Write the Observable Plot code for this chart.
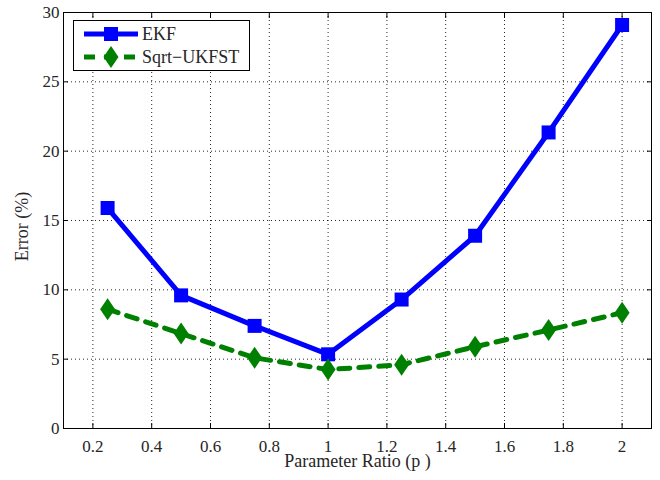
<!DOCTYPE html>
<html>
<head>
<meta charset="utf-8">
<script src="https://cdn.jsdelivr.net/npm/d3@7"></script>
<script src="https://cdn.jsdelivr.net/npm/@observablehq/plot@0.6"></script>
<style>
  html, body { margin: 0; padding: 0; background: #fff; }
  #chart svg { display: block; }
  #chart svg text { font-family: "Liberation Serif", serif !important; }
</style>
</head>
<body>
<div id="chart"></div>
<script>
// Parameter ratio values on the x axis
const ratios = [0.25, 0.5, 0.75, 1.0, 1.25, 1.5, 1.75, 2.0];
// Error (%) per filter
const ekfError = [15.9, 9.6, 7.4, 5.35, 9.3, 13.9, 21.35, 29.1];
const ukfstError = [8.6, 6.85, 5.1, 4.25, 4.6, 5.9, 7.1, 8.35];
const seriesNames = ["EKF", "Sqrt\u2212UKFST"];
const xTicks = [0.2, 0.4, 0.6, 0.8, 1, 1.2, 1.4, 1.6, 1.8, 2];
const yTicks = [0, 5, 10, 15, 20, 25, 30];

const ekfRows = ratios.map((p, i) => ({p, err: ekfError[i]}));
const ukfRows = ratios.map((p, i) => ({p, err: ukfstError[i]}));

const BLUE = "#0000ff";
const GREEN = "#008000";
const FONT = "Liberation Serif, serif";
const TXT = {fontFamily: FONT, fill: "#262626"};

// Tall diamond marker
const tallDiamond = {
  draw(ctx, size) {
    const w = 7.5, h = 11;
    ctx.moveTo(0, -h); ctx.lineTo(w, 0); ctx.lineTo(0, h); ctx.lineTo(-w, 0); ctx.closePath();
  }
};
const squareMark = {
  draw(ctx, size) {
    const s = 7;
    ctx.moveTo(-s, -s); ctx.lineTo(s, -s); ctx.lineTo(s, s); ctx.lineTo(-s, s); ctx.closePath();
  }
};

const plot = Plot.plot({
  width: 660,
  height: 480,
  marginLeft: 63,
  marginRight: 9,
  marginTop: 12,
  marginBottom: 52,
  style: {fontFamily: FONT, fontSize: "17px", color: "#262626", background: "#fff"},
  x: {domain: [0.1, 2.1]},
  y: {domain: [0, 30]},
  marks: [
    // dotted grid
    Plot.ruleX(xTicks, {stroke: "#000", strokeWidth: 1, strokeDasharray: "1,3", strokeOpacity: 0.85}),
    Plot.ruleY(yTicks, {stroke: "#000", strokeWidth: 1, strokeDasharray: "1,3", strokeOpacity: 0.85}),
    // inward ticks on all four sides
    Plot.axisX({ticks: xTicks, anchor: "bottom", tickSize: -5, text: null, label: null, stroke: "#000"}),
    Plot.axisX({ticks: xTicks, anchor: "top", tickSize: -5, text: null, label: null, stroke: "#000"}),
    Plot.axisY({ticks: yTicks, anchor: "left", tickSize: -5, text: null, label: null, stroke: "#000"}),
    Plot.axisY({ticks: yTicks, anchor: "right", tickSize: -5, text: null, label: null, stroke: "#000"}),
    // tick labels and axis titles
    Plot.axisX({ticks: xTicks, anchor: "bottom", tickSize: 0, tickPadding: 11, tickFormat: d => String(d),
      label: "Parameter Ratio (p )", labelAnchor: "center", labelArrow: "none", labelOffset: 38, ...TXT}),
    Plot.axisY({ticks: yTicks, anchor: "left", tickSize: 0, tickPadding: 4, tickFormat: d => String(d),
      label: "Error (%)", labelAnchor: "center", labelArrow: "none", labelOffset: 48, ...TXT}),
    // series
    Plot.line(ekfRows, {x: "p", y: "err", stroke: BLUE, strokeWidth: 5, strokeLinejoin: "miter"}),
    Plot.dot(ekfRows, {x: "p", y: "err", symbol: squareMark, r: 7, fill: BLUE, stroke: "none"}),
    Plot.line(ukfRows, {x: "p", y: "err", stroke: GREEN, strokeWidth: 5, strokeDasharray: "11,9"}),
    Plot.dot(ukfRows, {x: "p", y: "err", symbol: tallDiamond, r: 7, fill: GREEN, stroke: "none"}),
    Plot.frame({stroke: "#000", strokeWidth: 1})
  ]
});

const svg = d3.select(plot);
// text sizes: numeric tick labels 17px, axis titles 18px
svg.selectAll("text").each(function() {
  const t = d3.select(this);
  const s = t.text();
  if (/^[\d.]+$/.test(s)) t.style("font-size", "17px");
  else t.style("font-size", "18px");
});
// nudge the y-axis title slightly downward
const yl = svg.select('g[aria-label="y-axis label"]');
yl.attr("transform", "translate(0,6) " + (yl.attr("transform") || ""));

// Legend box in the upper-left corner of the frame
const lg = svg.append("g").attr("class", "legend").attr("font-family", FONT)
  .attr("fill", "#262626").attr("text-anchor", "start").style("font-size", "18px");
lg.append("rect").attr("x", 73.5).attr("y", 20.5).attr("width", 176).attr("height", 50)
  .attr("fill", "#fff").attr("stroke", "#000").attr("stroke-width", 1);
const entries = [
  {name: seriesNames[0], color: BLUE, dash: null, sym: squareMark, y: 34},
  {name: seriesNames[1], color: GREEN, dash: "11,9", sym: tallDiamond, y: 57}
];
entries.forEach(e => {
  lg.append("line").attr("x1", 84).attr("x2", 138).attr("y1", e.y).attr("y2", e.y)
    .attr("stroke", e.color).attr("stroke-width", 5).attr("stroke-dasharray", e.dash);
  lg.append("path").attr("transform", `translate(111,${e.y})`)
    .attr("d", d3.symbol(e.sym, 64)()).attr("fill", e.color);
  lg.append("text").attr("x", 142).attr("y", e.y).attr("dy", "0.35em")
    .style("font-size", "18px").text(e.name);
});

document.getElementById("chart").appendChild(plot);
</script>
</body>
</html>
